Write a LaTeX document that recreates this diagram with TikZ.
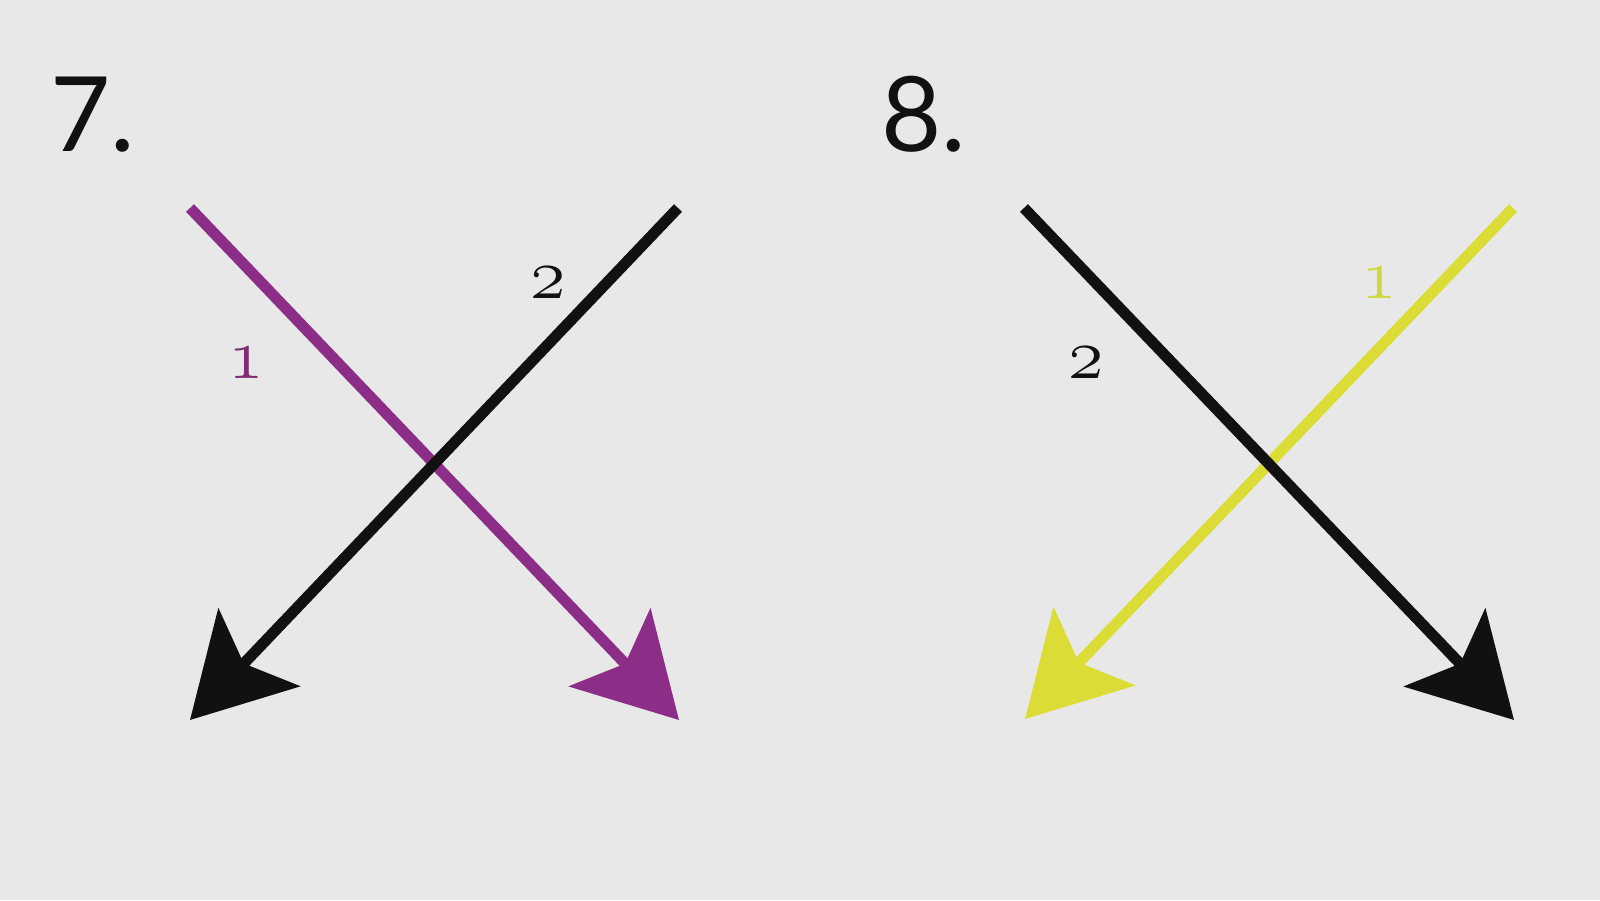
\documentclass[tikz,border=0pt]{standalone}
\usepackage{fontspec}
\usetikzlibrary{arrows.meta}
\definecolor{bg}{HTML}{E8E8E8}
\definecolor{violet1}{HTML}{8C2D88}
\definecolor{violetlbl}{HTML}{7D2E72}
\definecolor{yellow1}{HTML}{DCDC36}
\definecolor{yellowlbl}{HTML}{CFD83C}
\definecolor{ink}{HTML}{111111}
\tikzset{
  arrowline/.style={line width=11pt, -{Stealth[length=100pt, width=112pt, inset=22pt]}},
  heading/.style={inner sep=0pt, anchor=base west, text=ink, font={\fontspec{Lato}\fontsize{104}{110}\selectfont}},
  lbl/.style={inner sep=0pt, anchor=center, scale=2.9, font=\usefont{OML}{cmm}{m}{it}\fontsize{24.88}{26}\selectfont}
}
\begin{document}
\begin{tikzpicture}[x=1pt,y=-1pt]
\fill[bg] (0,0) rectangle (1600,900);
\useasboundingbox (0,0) rectangle (1600,900);
% headings
\node[heading] (h7) at (50,151) {7.};
\node[heading] (h8) at (881,151) {8.};
% figure 7
\coordinate (p1s) at (190,208);
\coordinate (p1e) at (679,720);
\coordinate (k1s) at (678,208);
\coordinate (k1e) at (190,720);
\draw[arrowline, violet1] (p1s) -- (p1e);
\draw[arrowline, ink] (k1s) -- (k1e);
\node[lbl, text=violetlbl] (l71) at (246,363) {1};
\node[lbl, text=ink] (l72) at (548,283) {2};
% figure 8
\coordinate (k2s) at (1024,208);
\coordinate (k2e) at (1514,720);
\coordinate (y2s) at (1513,208);
\coordinate (y2e) at (1025,719);
\draw[arrowline, yellow1] (y2s) -- (y2e);
\draw[arrowline, ink] (k2s) -- (k2e);
\node[lbl, text=ink] (l82) at (1086,363) {2};
\node[lbl, text=yellowlbl] (l81) at (1379,283) {1};
\end{tikzpicture}
\end{document}
